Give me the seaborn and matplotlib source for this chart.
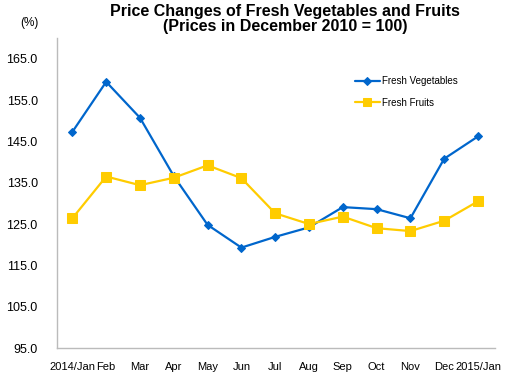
import numpy as np
import pandas as pd
import matplotlib
matplotlib.use("Agg")
import matplotlib.pyplot as plt
import seaborn as sns

# data
months = ["2014/Jan", "Feb", "Mar", "Apr", "May", "Jun", "Jul",
          "Aug", "Sep", "Oct", "Nov", "Dec", "2015/Jan"]
vegetables = [147.3, 159.4, 150.7, 136.6, 124.8, 119.3, 121.9,
              124.2, 129.1, 128.6, 126.4, 140.8, 146.2]
fruits = [126.4, 136.5, 134.4, 136.2, 139.2, 136.1, 127.6,
          125.0, 126.8, 124.0, 123.3, 125.8, 130.5]
yticks = [95, 105, 115, 125, 135, 145, 155, 165]

sns.set_style("white")
plt.rcParams["font.family"] = ["Liberation Sans", "DejaVu Sans"]
plt.rcParams["text.color"] = "black"
plt.rcParams["xtick.color"] = "black"
plt.rcParams["ytick.color"] = "black"

df = pd.DataFrame({"pos": np.arange(len(months)),
                   "Fresh Vegetables": vegetables,
                   "Fresh Fruits": fruits})

fig = plt.figure(figsize=(5.15, 3.8), dpi=100)
ax = fig.add_axes([0.111, 0.084, 0.85, 0.816])

sns.lineplot(data=df, x="pos", y="Fresh Vegetables", ax=ax, color="#0066CC",
             marker="D", markersize=4.5, markeredgecolor="#0066CC",
             linewidth=1.6, label="Fresh Vegetables")
sns.lineplot(data=df, x="pos", y="Fresh Fruits", ax=ax, color="#FFCC00",
             marker="s", markersize=6.5, markeredgecolor="#FFCC00",
             linewidth=1.6, label="Fresh Fruits")

ax.set_xlim(-0.45, 12.5)
ax.set_ylim(95, 170)
ax.set_yticks(yticks)
ax.set_yticklabels([f"{v:.1f}" for v in yticks], fontsize=9)
ax.set_xticks(df["pos"])
ax.set_xticklabels(months, fontsize=8)
ax.tick_params(axis="y", length=0, pad=14)
ax.tick_params(axis="x", length=0, pad=10)
ax.set_xlabel("")
ax.set_ylabel("")

for side in ["top", "right"]:
    ax.spines[side].set_visible(False)
for side in ["left", "bottom"]:
    ax.spines[side].set_color("#BBBBBB")
    ax.spines[side].set_linewidth(1)

ax.legend(loc="upper left", bbox_to_anchor=(0.66, 0.905), frameon=False,
          fontsize=7, handlelength=2.6, labelspacing=1.2, handletextpad=0.2,
          markerscale=0.8)

fig.text(0.553, 0.99, "Price Changes of Fresh Vegetables and Fruits\n(Prices in December 2010 = 100)",
         ha="center", va="top", fontsize=11.5, fontweight="bold", linespacing=1.05)
fig.text(0.058, 0.955, "(%)", ha="center", va="top", fontsize=8.5)

fig.savefig("out.png", dpi=100)
